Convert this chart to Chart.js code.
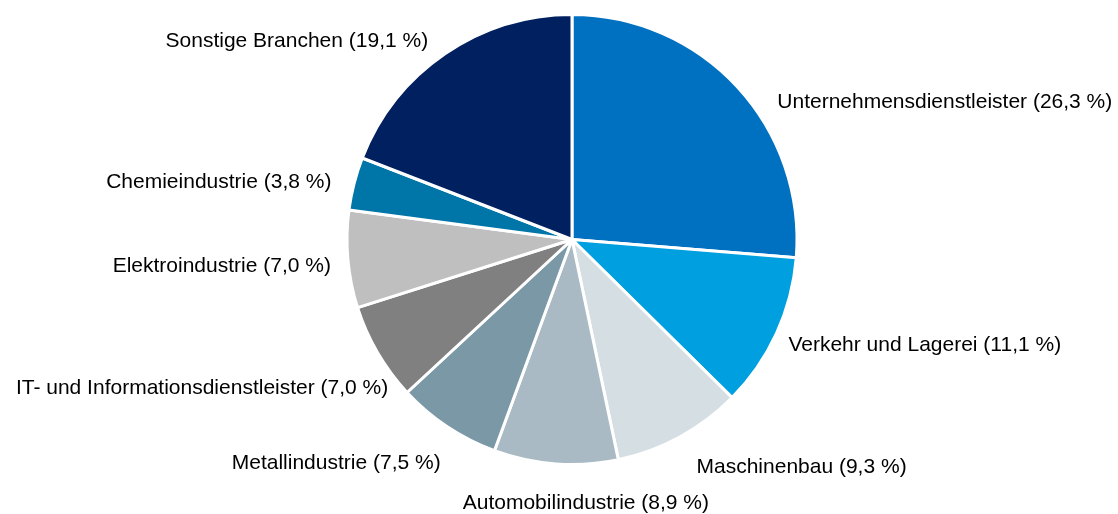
<!DOCTYPE html>
<html>
<head>
<meta charset="utf-8">
<script src="https://cdn.jsdelivr.net/npm/chart.js@4"></script>
<style>
  html, body { margin: 0; padding: 0; background: #fff; }
  #wrap { width: 1118px; height: 514px; }
</style>
</head>
<body>
<div id="wrap"><canvas id="myChart" width="1118" height="514"></canvas></div>
<script>
const branchen = [
  'Unternehmensdienstleister',
  'Verkehr und Lagerei',
  'Maschinenbau',
  'Automobilindustrie',
  'Metallindustrie',
  'IT- und Informationsdienstleister',
  'Elektroindustrie',
  'Chemieindustrie',
  'Sonstige Branchen'
];
const anteile = [26.3, 11.1, 9.3, 8.9, 7.5, 7.0, 7.0, 3.8, 19.1];
const farben = ['#0070C0', '#009FE0', '#D5DEE3', '#A9BAC4', '#7B98A6', '#808080', '#BFBFBF', '#0075A8', '#002060'];

// label nudges relative to the point just outside each slice
const labelShift = [
  [31, 29], [1, 13], [11, 25], [31, 33], [0, 32], [21, 35], [-5, 12], [-11, 7], [-10, 3]
];

const fmt = v => v.toFixed(1).replace('.', ',') + ' %';

const aussenLabels = {
  id: 'aussenLabels',
  afterDatasetsDraw(chart) {
    const ctx = chart.ctx;
    const meta = chart.getDatasetMeta(0);
    ctx.save();
    ctx.font = '21px "Liberation Sans", Arial, sans-serif';
    ctx.fillStyle = '#000';
    ctx.textBaseline = 'alphabetic';
    meta.data.forEach((arc, i) => {
      const mid = (arc.startAngle + arc.endAngle) / 2;
      const r = arc.outerRadius + 12;
      const x = arc.x + Math.cos(mid) * r + labelShift[i][0];
      const y = arc.y + Math.sin(mid) * r + labelShift[i][1];
      const c = Math.cos(mid);
      ctx.textAlign = Math.abs(c) < 0.2 && Math.sin(mid) > 0 ? 'center' : (c > 0 ? 'left' : 'right');
      ctx.fillText(branchen[i] + ' (' + fmt(anteile[i]) + ')', x, y);
    });
    ctx.restore();
  }
};

const ctx = document.getElementById('myChart');

const myChart = new Chart(ctx, {
  type: 'pie',
  data: {
    labels: branchen,
    datasets: [{
      data: anteile,
      backgroundColor: farben,
      borderColor: '#fff',
      borderWidth: 3
    }]
  },
  options: {
    responsive: false,
    animation: false,
    layout: {
      padding: { left: 26, right: 0, top: 13, bottom: 48 }
    },
    plugins: {
      legend: { display: false },
      tooltip: { enabled: false }
    }
  },
  plugins: [aussenLabels]
});
</script>
</body>
</html>
